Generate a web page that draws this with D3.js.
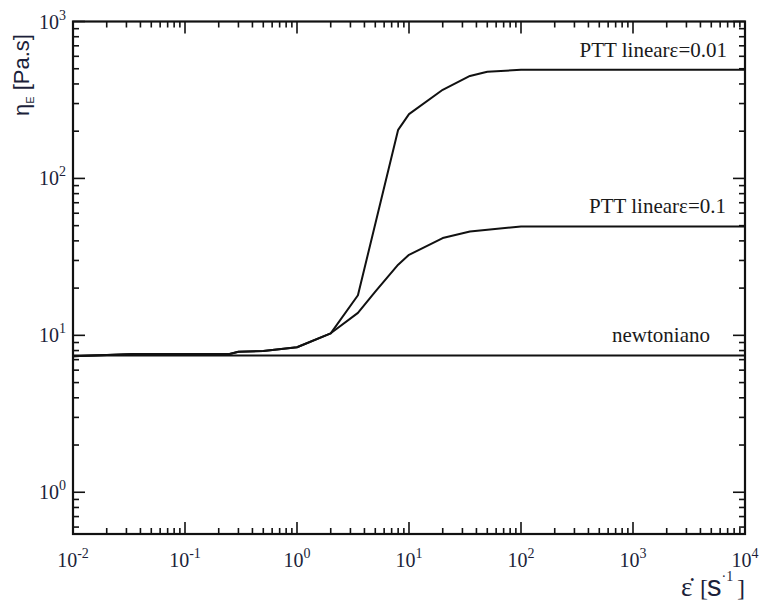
<!DOCTYPE html>
<html><head><meta charset="utf-8">
<script src="https://cdn.jsdelivr.net/npm/d3@7"></script>
<style>body{margin:0;background:#fff}</style>
</head><body>
<svg id="c" width="760" height="601"></svg>
<script>
// ---- data ----
const xExponents = [-2, -1, 0, 1, 2, 3, 4];
const yExponents = [0, 1, 2, 3];
const newtX = [0.01, 10000];
const newtY = [7.45, 7.45];
const ptt001X = [0.01, 0.035, 0.25, 0.3, 0.5, 1, 2, 3.5, 8, 10, 20, 35, 50, 100, 10000];
const ptt001Y = [7.35, 7.6, 7.6, 7.85, 7.95, 8.4, 10.3, 18, 204, 257, 367, 450, 478, 492, 492];
const ptt01X = [0.01, 0.035, 0.25, 0.3, 0.5, 1, 2, 3.5, 5, 8, 10, 20, 35, 100, 10000];
const ptt01Y = [7.35, 7.6, 7.6, 7.85, 7.95, 8.4, 10.3, 13.9, 19, 28.2, 32.6, 41.7, 45.9, 49.4, 49.4];
const seriesLabels = ["PTT linear\u03b5=0.01", "PTT linear\u03b5=0.1", "newtoniano"];

// ---- layout ----
const L = 73, R = 745, T = 21.5, B = 534;
const svg = d3.select("#c");
const x = d3.scaleLog().domain([0.01, 10000]).range([L, R]);
const y = d3.scaleLog().domain([0.542, 1000]).range([B, T]);

const ink = "#111";
const lbl = "#1c1f3a";

const xMinor = [], yMinor = [];
for (let d = -2; d < 4; d++) for (let k = 2; k <= 9; k++) xMinor.push(k * Math.pow(10, d));
for (let d = -1; d < 3; d++) for (let k = 2; k <= 9; k++) { const v = k * Math.pow(10, d); if (v >= 0.542) yMinor.push(v); }
const xMajor = xExponents.map(e => Math.pow(10, e));
const yMajor = yExponents.map(e => Math.pow(10, e));

const tk = svg.append("g").attr("stroke", ink).attr("stroke-width", 1.6);
[[xMajor, 12], [xMinor, 6]].forEach(([vals, len]) => {
  vals.forEach(v => {
    tk.append("line").attr("x1", x(v)).attr("x2", x(v)).attr("y1", B).attr("y2", B - len);
    tk.append("line").attr("x1", x(v)).attr("x2", x(v)).attr("y1", T).attr("y2", T + len);
  });
});
[[yMajor, 12], [yMinor, 6]].forEach(([vals, len]) => {
  vals.forEach(v => {
    tk.append("line").attr("y1", y(v)).attr("y2", y(v)).attr("x1", L).attr("x2", L + len);
    tk.append("line").attr("y1", y(v)).attr("y2", y(v)).attr("x1", R).attr("x2", R - len);
  });
});

const line = d3.line().x(d => x(d[0])).y(d => y(d[1]));
const series = [
  d3.zip(newtX, newtY),
  d3.zip(ptt001X, ptt001Y),
  d3.zip(ptt01X, ptt01Y)
];
series.forEach(s => {
  svg.append("path").attr("d", line(s)).attr("fill", "none")
    .attr("stroke", ink).attr("stroke-width", 2).attr("stroke-linejoin", "round");
});

svg.append("rect").attr("x", L).attr("y", T).attr("width", R - L).attr("height", B - T)
  .attr("fill", "none").attr("stroke", ink).attr("stroke-width", 2.2);

const serif = "Liberation Serif";
const sans = "Liberation Sans";
xExponents.forEach(e => {
  const t = svg.append("text").attr("x", x(Math.pow(10, e))).attr("y", 567)
    .attr("text-anchor", "middle").style("font-family", serif).attr("font-size", 20).attr("fill", lbl);
  t.append("tspan").text("10");
  t.append("tspan").attr("dy", -9).attr("font-size", 14).text(String(e));
});
yExponents.forEach(e => {
  const t = svg.append("text").attr("x", 66).attr("y", y(Math.pow(10, e)) + 7)
    .attr("text-anchor", "end").style("font-family", serif).attr("font-size", 20).attr("fill", lbl);
  t.append("tspan").text("10");
  t.append("tspan").attr("dy", -9).attr("font-size", 14).text(String(e));
});

const labelY = [ptt001Y[ptt001Y.length - 1], ptt01Y[ptt01Y.length - 1], newtY[1]];
const labelX = [727, 726, 710];
seriesLabels.forEach((s, i) => {
  svg.append("text").attr("x", labelX[i]).attr("y", y(labelY[i]) - 13)
    .attr("text-anchor", "end").style("font-family", serif).attr("font-size", 21).attr("fill", "#1a1a1a").text(s);
});

// y title
const yt = svg.append("text").attr("transform", "translate(29,116) rotate(-90)")
  .style("font-family", sans).attr("font-size", 22).attr("fill", lbl);
yt.append("tspan").text("\u03b7");
yt.append("tspan").attr("dy", 5).attr("font-size", 11).text("E");
yt.append("tspan").attr("dy", -5).text(" [Pa.s]");

// x title: ε̇ [s⁻¹]
const xt = svg.append("text").attr("x", 681).attr("y", 596).attr("fill", lbl).style("font-family", serif);
xt.append("tspan").attr("font-size", 27).text("\u03b5\u0307");
xt.append("tspan").attr("x", 700).attr("font-size", 24).text("[");
xt.append("tspan").attr("x", 707).attr("font-size", 29).style("font-family", sans).text("s");
xt.append("tspan").attr("dy", -15).attr("font-size", 14).text("\u00b71");
xt.append("tspan").attr("x", 737).attr("dy", 15).attr("font-size", 24).text("]");
</script>
</body></html>
